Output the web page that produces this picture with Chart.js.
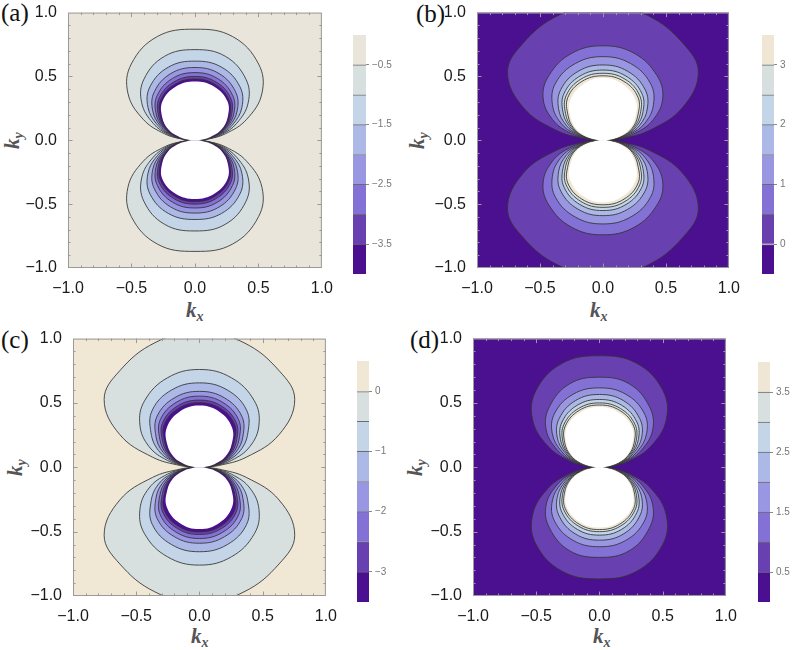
<!DOCTYPE html>
<html>
<head>
<meta charset="utf-8">
<script src="https://cdn.jsdelivr.net/npm/chart.js@4.4.1/dist/chart.umd.min.js"></script>
<style>
  body { margin: 0; background: #fff; width: 797px; height: 650px; position: relative; overflow: hidden; }
  canvas { position: absolute; }
  .tag { position: absolute; font: 25px "Liberation Serif", serif; color: #111; line-height: 1; }
  .g { position: absolute; color: #e3152d; font-style: italic; line-height: 1; font-family: "Liberation Sans", Arial, sans-serif; }
  .ax { position: absolute; font: bold italic 21px "Liberation Serif", serif; color: #555; line-height: 1; white-space: nowrap; }
  .ax sub { font-size: 14px; vertical-align: -4px; }
  .ky { transform: rotate(-90deg); transform-origin: left top; }
</style>
</head>
<body>
<div class="tag" style="left:1px;top:0px">(a)</div>
<div class="tag" style="left:416px;top:1px">(b)</div>
<div class="tag" style="left:1px;top:327px">(c)</div>
<div class="tag" style="left:410px;top:327px">(d)</div>

<div class="g" style="left:74px;top:18px;font-size:20px">G</div>
<div class="g" style="left:88px;top:16px;font-size:12px">1</div>
<div class="g" style="left:86px;top:28px;font-size:13px">xx</div>
<div class="g" style="left:486px;top:18px;font-size:20px">G</div>
<div class="g" style="left:500px;top:16px;font-size:12px">2</div>
<div class="g" style="left:498px;top:28px;font-size:13px">xx</div>
<div class="g" style="left:83px;top:347px;font-size:20px">G</div>
<div class="g" style="left:97px;top:345px;font-size:12px">3</div>
<div class="g" style="left:95px;top:357px;font-size:13px">xx</div>
<div class="g" style="left:483px;top:347px;font-size:20px">G</div>
<div class="g" style="left:497px;top:345px;font-size:12px">4</div>
<div class="g" style="left:495px;top:357px;font-size:13px">xx</div>

<div class="ax" style="left:186px;top:300px">k<sub>x</sub></div>
<div class="ax" style="left:590px;top:300px">k<sub>x</sub></div>
<div class="ax" style="left:191px;top:626px">k<sub>x</sub></div>
<div class="ax" style="left:593px;top:626px">k<sub>x</sub></div>
<div class="ax ky" style="left:2px;top:149px">k<sub>y</sub></div>
<div class="ax ky" style="left:407px;top:149px">k<sub>y</sub></div>
<div class="ax ky" style="left:5px;top:476px">k<sub>y</sub></div>
<div class="ax ky" style="left:405px;top:476px">k<sub>y</sub></div>

<script>
// polar angles (deg) at which each contour lobe is read, from the ky axis down to the kx axis
const angles = [90, 70, 50, 35, 22, 12, 5, 0];
const axisTicks = [-1, -0.5, 0, 0.5, 1];
const frameTicks = [-0.9, -0.8, -0.7, -0.6, -0.5, -0.4, -0.3, -0.2, -0.1, 0,
  0.1, 0.2, 0.3, 0.4, 0.5, 0.6, 0.7, 0.8, 0.9];

// contour colours, lowest band first
const palette = ['#4b1090', '#6940b0', '#8371d6', '#9a97e2', '#acb8e6', '#c3d5e7', '#d8dfdf', '#ebe5d8'];

// (a) G1xx
const levelsA = [-0.5, -1, -1.5, -2, -2.5, -3, -3.5];
const edgesA = [-4, -3.5, -3, -2.5, -2, -1.5, -1, -0.5, 0];
const barTicksA = [-3.5, -2.5, -1.5, -0.5];
const radiiA = [
  [0.87, 0.865, 0.78, 0.645, 0.44, 0.245, 0.10, 0.03],
  [0.71, 0.70, 0.625, 0.512, 0.355, 0.213, 0.091, 0.03],
  [0.62, 0.61, 0.55, 0.452, 0.318, 0.19, 0.081, 0.03],
  [0.57, 0.556, 0.497, 0.407, 0.29, 0.176, 0.075, 0.03],
  [0.53, 0.516, 0.461, 0.376, 0.27, 0.165, 0.07, 0.03],
  [0.50, 0.486, 0.436, 0.353, 0.256, 0.158, 0.068, 0.03],
  [0.48, 0.466, 0.417, 0.335, 0.245, 0.152, 0.066, 0.03],
  [0.46, 0.446, 0.398, 0.315, 0.225, 0.125, 0.05, 0.03]
];

// (b) G2xx
const levelsB = [0, 0.5, 1, 1.5, 2, 2.5, 3];
const edgesB = [-0.5, 0, 0.5, 1, 1.5, 2, 2.5, 3, 3.5];
const barTicksB = [0, 1, 2, 3];
const radiiB = [
  [1.07, 1.04, 0.99, 0.925, 0.68, 0.38, 0.15, 0.03],
  [0.74, 0.725, 0.665, 0.58, 0.43, 0.26, 0.11, 0.03],
  [0.655, 0.64, 0.585, 0.49, 0.36, 0.22, 0.095, 0.03],
  [0.59, 0.575, 0.52, 0.43, 0.315, 0.195, 0.085, 0.03],
  [0.55, 0.535, 0.48, 0.388, 0.285, 0.178, 0.078, 0.03],
  [0.525, 0.51, 0.455, 0.362, 0.265, 0.168, 0.074, 0.03],
  [0.505, 0.49, 0.435, 0.338, 0.25, 0.158, 0.07, 0.03],
  [0.487, 0.465, 0.405, 0.313, 0.224, 0.125, 0.05, 0.03]
];

// (c) G3xx
const levelsC = [0, -0.5, -1, -1.5, -2, -2.5, -3];
const edgesC = [-3.5, -3, -2.5, -2, -1.5, -1, -0.5, 0, 0.5];
const barTicksC = [-3, -2, -1, 0];
const radiiC = [
  [1.06, 1.03, 0.98, 0.92, 0.68, 0.38, 0.15, 0.03],
  [0.76, 0.74, 0.675, 0.575, 0.43, 0.26, 0.11, 0.03],
  [0.656, 0.64, 0.58, 0.468, 0.35, 0.215, 0.093, 0.03],
  [0.59, 0.575, 0.52, 0.42, 0.31, 0.19, 0.083, 0.03],
  [0.553, 0.537, 0.482, 0.383, 0.283, 0.177, 0.077, 0.03],
  [0.522, 0.507, 0.453, 0.357, 0.263, 0.166, 0.073, 0.03],
  [0.502, 0.487, 0.433, 0.335, 0.248, 0.157, 0.069, 0.03],
  [0.48, 0.46, 0.402, 0.311, 0.222, 0.125, 0.05, 0.03]
];

// (d) G4xx
const levelsD = [0.5, 1, 1.5, 2, 2.5, 3, 3.5];
const edgesD = [0, 0.5, 1, 1.5, 2, 2.5, 3, 3.5, 4];
const barTicksD = [0.5, 1.5, 2.5, 3.5];
const radiiD = [
  [0.867, 0.86, 0.78, 0.645, 0.44, 0.245, 0.10, 0.03],
  [0.70, 0.69, 0.615, 0.515, 0.36, 0.215, 0.092, 0.03],
  [0.617, 0.605, 0.55, 0.455, 0.32, 0.192, 0.082, 0.03],
  [0.566, 0.552, 0.495, 0.408, 0.29, 0.177, 0.076, 0.03],
  [0.527, 0.513, 0.46, 0.376, 0.27, 0.166, 0.071, 0.03],
  [0.50, 0.486, 0.436, 0.354, 0.256, 0.158, 0.068, 0.03],
  [0.484, 0.47, 0.42, 0.336, 0.245, 0.153, 0.066, 0.03],
  [0.468, 0.452, 0.402, 0.317, 0.226, 0.125, 0.05, 0.03]
];

const panels = [
  { left: 68, top: 10, w: 260, h: 258, bar: { left: 353, top: 34, w: 13, h: 241 },
    levels: levelsA, edges: edgesA, barTicks: barTicksA, radii: radiiA, rising: false, beige: '#e9e5da' },
  { left: 477, top: 10, w: 258, h: 258, bar: { left: 762, top: 34, w: 12, h: 241 },
    levels: levelsB, edges: edgesB, barTicks: barTicksB, radii: radiiB, rising: true, beige: '#efe6d4' },
  { left: 73, top: 336, w: 259, h: 260, bar: { left: 357, top: 360, w: 12, h: 243 },
    levels: levelsC, edges: edgesC, barTicks: barTicksC, radii: radiiC, rising: false, beige: '#f1e7d5' },
  { left: 473, top: 336, w: 259, h: 260, bar: { left: 758, top: 361, w: 12, h: 242 },
    levels: levelsD, edges: edgesD, barTicks: barTicksD, radii: radiiD, rising: true, beige: '#efe6d6' }
];

const fontFamily = '"Liberation Sans", Arial, sans-serif';

function polar(r, deg, sign) {
  const t = deg * Math.PI / 180;
  return { x: r * Math.cos(t), y: sign * r * Math.sin(t) };
}

// one lobe: right foot -> right side -> top -> left side -> left foot
function lobe(radii, sign) {
  const pts = [];
  for (let i = angles.length - 1; i >= 0; i--) pts.push(polar(radii[i], angles[i], sign));
  for (let i = 1; i < angles.length; i++) pts.push(polar(radii[i], 180 - angles[i], sign));
  return pts;
}

function fmtAxis(v) {
  return (v < 0 ? '\u2212' : '') + Math.abs(v).toFixed(1);
}
function fmtBar(v) {
  return (v < 0 ? '\u2212' : '') + String(Math.abs(v));
}

// plot background, gray frame and inward Mathematica-style ticks
const framePlugin = {
  id: 'frame',
  beforeDatasetsDraw(chart, args, opts) {
    const { ctx, chartArea: a } = chart;
    ctx.save();
    ctx.fillStyle = opts.bg;
    ctx.fillRect(a.left, a.top, a.right - a.left, a.bottom - a.top);
    ctx.restore();
  },
  afterDraw(chart) {
    const { ctx, chartArea: a, scales: { x, y } } = chart;
    ctx.save();
    ctx.strokeStyle = '#9a9a9a';
    ctx.lineWidth = 1;
    ctx.strokeRect(a.left + 0.5, a.top + 0.5, a.right - a.left - 1, a.bottom - a.top - 1);
    ctx.beginPath();
    frameTicks.forEach(v => {
      const len = Math.abs(v * 2 - Math.round(v * 2)) < 1e-6 ? 4.5 : 2.5;
      const px = Math.round(x.getPixelForValue(v)) + 0.5;
      const py = Math.round(y.getPixelForValue(v)) + 0.5;
      ctx.moveTo(px, a.bottom); ctx.lineTo(px, a.bottom - len);
      ctx.moveTo(px, a.top); ctx.lineTo(px, a.top + len);
      ctx.moveTo(a.left, py); ctx.lineTo(a.left + len, py);
      ctx.moveTo(a.right, py); ctx.lineTo(a.right - len, py);
    });
    ctx.stroke();
    ctx.restore();
  }
};

function addCanvas(left, top, w, h) {
  const cv = document.createElement('canvas');
  cv.width = w;
  cv.height = h;
  cv.style.left = left + 'px';
  cv.style.top = top + 'px';
  cv.style.width = w + 'px';
  cv.style.height = h + 'px';
  document.body.appendChild(cv);
  return cv;
}

function drawPanel(p) {
  const shades = palette.slice(0, 7).concat(p.beige);
  const W = 68 + p.w + 8;
  const H = 10 + p.h + 34;
  const cv = addCanvas(p.left - 68, p.top - 10, W, H);

  const datasets = [];
  p.radii.forEach((r, i) => {
    const inner = i === p.levels.length;
    let color = '#ffffff';
    if (!inner) {
      const k = p.edges.indexOf(p.levels[i]);
      color = shades[p.rising ? k : k - 1];
    }
    [1, -1].forEach(sign => {
      datasets.push({
        label: inner ? 'out of range' : 'G = ' + p.levels[i],
        data: lobe(r, sign),
        fill: 'shape',
        backgroundColor: color,
        borderColor: inner ? 'rgba(0,0,0,0)' : 'rgba(50,50,50,0.85)',
        borderWidth: inner ? 0 : 1,
        pointRadius: 0,
        tension: 0.4,
        order: -i
      });
    });
  });

  const tickFont = { family: fontFamily, size: 16 };
  new Chart(cv, {
    type: 'line',
    data: { datasets },
    options: {
      responsive: false,
      animation: false,
      events: [],
      layout: { padding: { top: 10, right: 8, left: 0, bottom: 0 } },
      plugins: {
        legend: { display: false },
        tooltip: { enabled: false },
        frame: { bg: p.rising ? shades[0] : shades[7] }
      },
      scales: {
        x: {
          type: 'linear', min: -1, max: 1,
          afterBuildTicks: s => { s.ticks = axisTicks.map(v => ({ value: v })); },
          afterFit: s => { s.height = 34; },
          grid: { display: false },
          border: { display: false },
          ticks: { padding: 3, color: '#1a1a1a', font: tickFont, maxRotation: 0, autoSkip: false, callback: fmtAxis }
        },
        y: {
          type: 'linear', min: -1, max: 1,
          afterBuildTicks: s => { s.ticks = axisTicks.map(v => ({ value: v })); },
          afterFit: s => { s.width = 68; },
          grid: { display: false },
          border: { display: false },
          ticks: { padding: 3, color: '#1a1a1a', font: tickFont, autoSkip: false, callback: fmtAxis }
        }
      }
    },
    plugins: [framePlugin]
  });
}

function drawBar(p) {
  const b = p.bar;
  const shades = palette.slice(0, 7).concat(p.beige);
  const cv = addCanvas(b.left - 4, b.top - 8, 4 + b.w + 40, 8 + b.h + 8);
  const n = p.edges.length - 1;
  const datasets = p.edges.slice(0, n).map((lo, k) => ({
    data: [[lo, p.edges[k + 1]]],
    backgroundColor: shades[k],
    borderColor: '#6b6b6b',
    borderWidth: { top: k < n - 1 ? 1 : 0, left: 0, right: 0, bottom: 0 },
    borderSkipped: false,
    grouped: false,
    barPercentage: 1,
    categoryPercentage: 1
  }));
  new Chart(cv, {
    type: 'bar',
    data: { labels: [''], datasets },
    options: {
      responsive: false,
      animation: false,
      events: [],
      layout: { padding: { top: 8, bottom: 8, left: 4, right: 0 } },
      plugins: { legend: { display: false }, tooltip: { enabled: false } },
      scales: {
        x: { display: false },
        y: {
          position: 'right',
          min: p.edges[0], max: p.edges[n],
          afterBuildTicks: s => { s.ticks = p.barTicks.map(v => ({ value: v })); },
          afterFit: s => { s.width = 40; },
          grid: { display: true, drawOnChartArea: false, drawTicks: true, tickLength: 3, color: '#8a8a8a' },
          border: { display: false },
          ticks: { padding: 3, color: '#777', font: { family: fontFamily, size: 10 }, autoSkip: false, callback: fmtBar }
        }
      }
    }
  });
}

panels.forEach(p => { drawPanel(p); drawBar(p); });
</script>
</body>
</html>
